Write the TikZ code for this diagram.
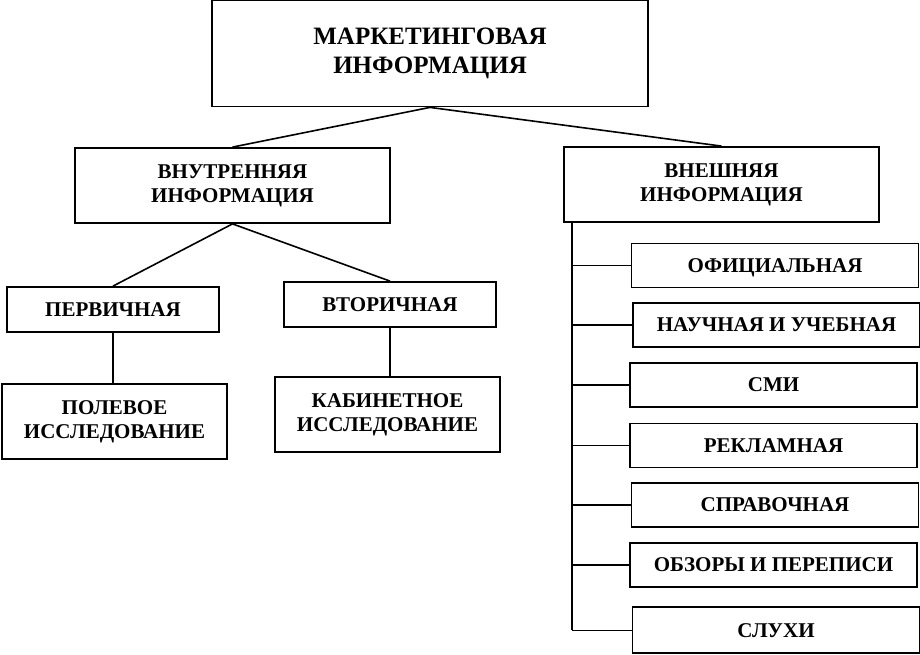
\documentclass[tikz,border=0pt]{standalone}
\usepackage{fontspec}
\setmainfont{Liberation Serif}
\usetikzlibrary{positioning}

\begin{document}
\begin{tikzpicture}[
        x=1pt, y=-1pt,
        box/.style={draw, line width=1.8pt, rectangle, align=center, inner sep=0pt,
            font=\fontsize{21}{24}\selectfont\bfseries},
        head/.style={box, minimum width=436pt, minimum height=106pt,
            font=\fontsize{25}{29}\selectfont\bfseries},
        group/.style={box, minimum width=315pt, minimum height=75pt},
        kind/.style={box, minimum width=212pt, minimum height=45pt, text height=13.5pt, text depth=0pt},
        study/.style={box, minimum width=225pt, minimum height=75pt},
        item/.style={box, minimum width=287pt, minimum height=44pt, text height=13.5pt, text depth=0pt},
        link/.style={line width=1.6pt}
    ]
        \useasboundingbox (0,0) rectangle (920,655);
        % Nodes
        \node (market) [head] at (430,53.5) {МАРКЕТИНГОВАЯ\\ИНФОРМАЦИЯ};
        \node (inner) [group] at (232.5,185.5) {ВНУТРЕННЯЯ\\ИНФОРМАЦИЯ};
        \node (outer) [group] at (721.5,184.5) {ВНЕШНЯЯ\\ИНФОРМАЦИЯ};
        \node (primary) [kind] at (113,309.5) {ПЕРВИЧНАЯ};
        \node (secondary) [kind] at (390,304.5) {ВТОРИЧНАЯ};
        \node (field) [study] at (114.5,421.5) {ПОЛЕВОЕ\\ИССЛЕДОВАНИЕ};
        \node (desk) [study] at (387.5,414.5) {КАБИНЕТНОЕ\\ИССЛЕДОВАНИЕ};
        \node (official) [item] at (775,265.5) {ОФИЦИАЛЬНАЯ};
        \node (science) [item, below=13.5pt of official, xshift=1.5pt] {НАУЧНАЯ И УЧЕБНАЯ};
        \node (media) [item, below=14.5pt of science, xshift=-3pt] {СМИ};
        \node (advert) [item, below=14.5pt of media] {РЕКЛАМНАЯ};
        \node (reference) [item, below=13.5pt of advert, xshift=1.5pt] {СПРАВОЧНАЯ};
        \node (reviews) [item, below=14.5pt of reference, xshift=-1.5pt] {ОБЗОРЫ И ПЕРЕПИСИ};
        \node (rumours) [item, minimum height=46pt, below=18.5pt of reviews, xshift=2.5pt] {СЛУХИ};
        \coordinate (spine) at ([xshift=9pt]outer.south west);

        % Paths
        \draw [link] (market.south) -- (inner.north);
        \draw [link] (market.south) -- (outer.north);
        \draw [link] (inner.south) -- (primary.north);
        \draw [link] (inner.south) -- (secondary.north);
        \draw [link] (primary.south) -- (primary.south |- field.north);
        \draw [link] (secondary.south) -- (secondary.south |- desk.north);

        % External sources
        \draw [link] (spine) -- (spine |- rumours.west);
        \draw [link] (spine |- official.west) -- (official.west);
        \draw [link] (spine |- science.west) -- (science.west);
        \draw [link] (spine |- media.west) -- (media.west);
        \draw [link] (spine |- advert.west) -- (advert.west);
        \draw [link] (spine |- reference.west) -- (reference.west);
        \draw [link] (spine |- reviews.west) -- (reviews.west);
        \draw [link] (spine |- rumours.west) -- (rumours.west);
    \end{tikzpicture}
\end{document}
